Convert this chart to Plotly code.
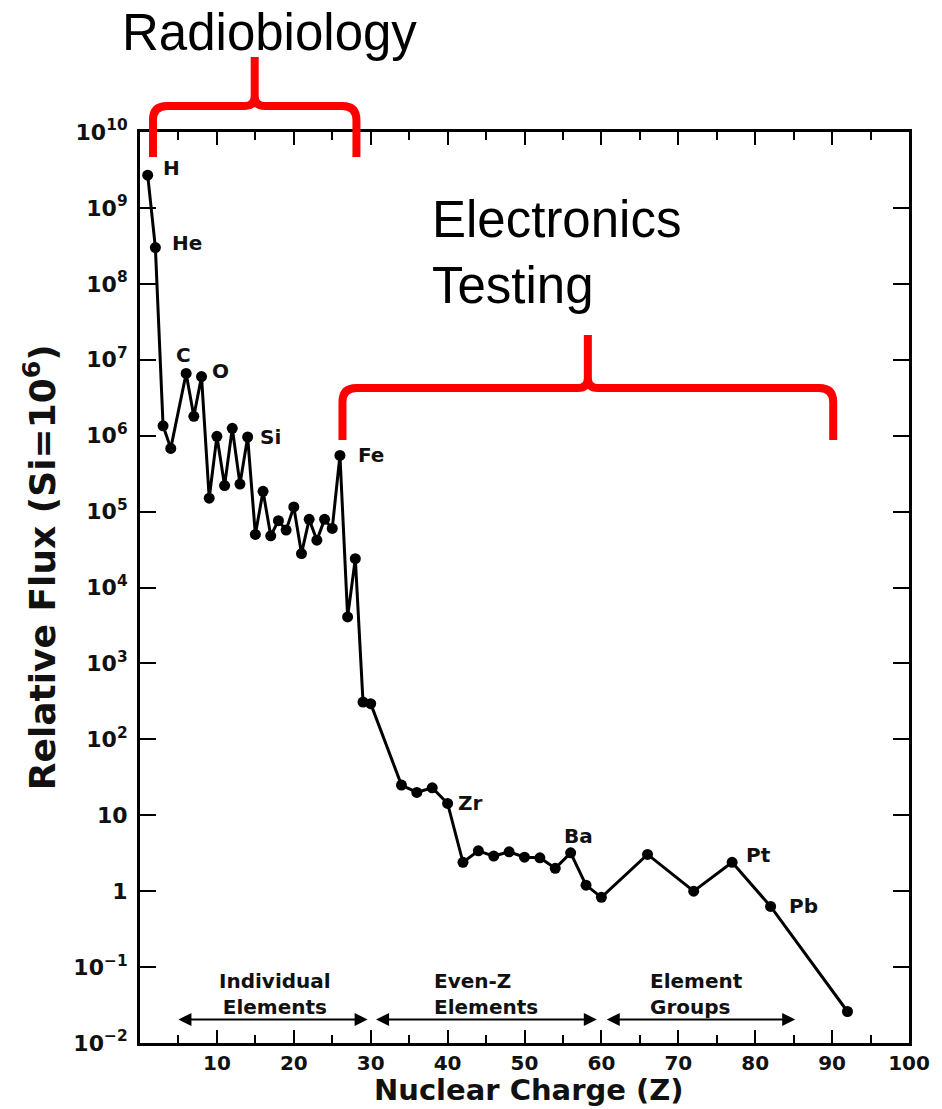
import math
import plotly.graph_objects as go

# ---------------- data ----------------
Z = [1, 2, 3, 4, 6, 7, 8, 9, 10, 11, 12, 13, 14, 15, 16, 17, 18, 19, 20,
     21, 22, 23, 24, 25, 26, 27, 28, 29, 30, 34, 36, 38, 40, 42, 44, 46,
     48, 50, 52, 54, 56, 58, 60, 66, 72, 77, 82, 92]
flux = [2.7e9, 3.0e8, 1.35e6, 6.8e5, 6.6e6, 1.8e6, 6.0e6, 1.5e5, 9.8e5,
        2.2e5, 1.25e6, 2.3e5, 9.6e5, 5.0e4, 1.85e5, 4.8e4, 7.6e4, 5.7e4,
        1.15e5, 2.8e4, 7.9e4, 4.2e4, 7.9e4, 6.0e4, 5.5e5, 4.1e3, 2.4e4,
        310, 295, 25, 20, 23, 14.3, 2.4, 3.4, 2.9, 3.3, 2.8, 2.75, 2.0,
        3.2, 1.2, 0.83, 3.05, 1.0, 2.4, 0.63, 0.026]

label_z = [1, 2, 6, 8, 14, 26, 40, 56, 77, 82]
label_text = ["H", "He", "C", "O", "Si", "Fe", "Zr", "Ba", "Pt", "Pb"]

y_tickvals = [1e-2, 1e-1, 1, 10, 1e2, 1e3, 1e4, 1e5, 1e6, 1e7, 1e8, 1e9, 1e10]
y_ticktext = ["10<sup>−2</sup>", "10<sup>−1</sup>", "1", "10", "10<sup>2</sup>",
              "10<sup>3</sup>", "10<sup>4</sup>", "10<sup>5</sup>", "10<sup>6</sup>",
              "10<sup>7</sup>", "10<sup>8</sup>", "10<sup>9</sup>", "10<sup>10</sup>"]
x_tickvals = [10, 20, 30, 40, 50, 60, 70, 80, 90, 100]
x_ticktext = ["10", "20", "30", "40", "50", "60", "70", "80", "90", "100"]

group_names = ["Individual<br>Elements", "Even-Z<br>Elements", "Element<br>Groups"]
group_start = [4.8, 30.5, 60.5]
group_end = [29.6, 59.4, 85.2]
group_center = [17.6, 38.0, 66.0]

# --------------- layout geometry (pixels) ---------------
W, H = 942, 1109
L, R, T, B = 140, 911, 132, 1043

def px(xp):
    return (xp - L) / (R - L)

def py(yp):
    return (B - yp) / (B - T)

# label offsets in pixels (style)
label_dx = [24, 32, -3, 19, 23, 31, 23, 8, 26, 33]
label_dy = [7, 5, 18, 6, 0, 0, 0, 17, 7, 0]

TXT = "#111111"
FONT = "DejaVu Sans"

fig = go.Figure()
fig.add_trace(go.Scatter(
    x=Z, y=flux, mode="lines+markers",
    line=dict(color="black", width=3),
    marker=dict(color="black", size=11),
    showlegend=False, cliponaxis=False,
))

annotations = []
zf = dict(zip(Z, flux))
for z, t, dx, dy in zip(label_z, label_text, label_dx, label_dy):
    annotations.append(dict(
        x=z, y=math.log10(zf[z]), xref="x", yref="y", text=t, showarrow=False,
        xshift=dx, yshift=dy,
        font=dict(family=FONT, size=20, color=TXT, weight="bold")))

# group arrows and names
for name, s, e, c, al in zip(group_names, group_start, group_end, group_center,
                             ["center", "left", "left"]):
    annotations.append(dict(
        x=e, y=-1.69, ax=s, ay=-1.69, xref="x", yref="y", axref="x", ayref="y",
        text="", showarrow=True, arrowside="end+start", arrowhead=2,
        arrowsize=1.3, arrowwidth=2, arrowcolor="black"))
    annotations.append(dict(
        x=c, y=-1.36, xref="x", yref="y", text=name, showarrow=False,
        align=al, xanchor="center" if al == "center" else "left",
        font=dict(family=FONT, size=20, color=TXT, weight="bold")))

# axis titles
annotations.append(dict(
    x=px(530), y=py(1090), xref="paper", yref="paper", text="Nuclear Charge (Z)",
    showarrow=False, xanchor="center", yanchor="middle",
    font=dict(family=FONT, size=29, color=TXT, weight="bold")))
annotations.append(dict(
    x=px(40), y=py(567), xref="paper", yref="paper",
    text="Relative Flux (Si=10<sup>6</sup>)", textangle=-90,
    showarrow=False, xanchor="center", yanchor="middle",
    font=dict(family=FONT, size=36, color=TXT, weight="bold")))

# big titles
annotations.append(dict(
    x=px(270), y=py(33), xref="paper", yref="paper", text="Radiobiology",
    showarrow=False, xanchor="center", yanchor="middle",
    font=dict(family="Liberation Sans", size=51, color="black")))
annotations.append(dict(
    x=px(431), y=py(252), xref="paper", yref="paper", text="Electronics<br>Testing",
    showarrow=False, xanchor="left", yanchor="middle", align="left",
    font=dict(family="Liberation Sans", size=51, color="black")))

# red braces (x in data units, y in paper units)
def brace(x0, x1, xc, yb, yh, yt):
    rx = 14 / 7.71
    ry = 14 / (B - T)
    cx = 10 / 7.71
    cy = 10 / (B - T)
    return (f"M {x0},{yb} L {x0},{yh - ry} Q {x0},{yh} {x0 + rx},{yh} "
            f"L {xc - cx},{yh} Q {xc},{yh} {xc},{yh + cy} L {xc},{yt} "
            f"M {xc},{yh + cy} Q {xc},{yh} {xc + cx},{yh} "
            f"L {x1 - rx},{yh} Q {x1},{yh} {x1},{yh - ry} L {x1},{yb}")

def zx(xp):
    return (xp - 141) / 7.71

shapes = [
    dict(type="path", xref="x", yref="paper",
         path=brace(zx(154), zx(358), zx(256), py(157), py(106), py(57)),
         line=dict(color="#ff0000", width=8)),
    dict(type="path", xref="x", yref="paper",
         path=brace(zx(344), zx(836), zx(590), py(440), py(388), py(335)),
         line=dict(color="#ff0000", width=8)),
]

axis_common = dict(showline=True, linecolor="black", linewidth=3, mirror="ticks",
                   ticks="inside", tickcolor="black", showgrid=False, zeroline=False)

fig.update_layout(
    width=W, height=H,
    margin=dict(l=L, r=W - R, t=T, b=H - B),
    paper_bgcolor="white", plot_bgcolor="white",
    annotations=annotations, shapes=shapes,
    xaxis=dict(range=[0, 100], tickvals=x_tickvals, ticktext=x_ticktext,
               ticklen=13, tickwidth=2,
               minor=dict(tickvals=[5, 15, 25, 35, 45, 55, 65, 75, 85, 95],
                          ticks="inside", ticklen=8, tickwidth=2, tickcolor="black"),
               tickfont=dict(family=FONT, size=20, color=TXT, weight="bold"),
               **axis_common),
    yaxis=dict(type="log", range=[-2, 10], tickvals=y_tickvals, ticktext=y_ticktext,
               ticklen=16, tickwidth=2, ticklabelstandoff=5,
               tickfont=dict(family=FONT, size=22, color=TXT, weight="bold"),
               **axis_common),
)

fig.write_html("out.html")
